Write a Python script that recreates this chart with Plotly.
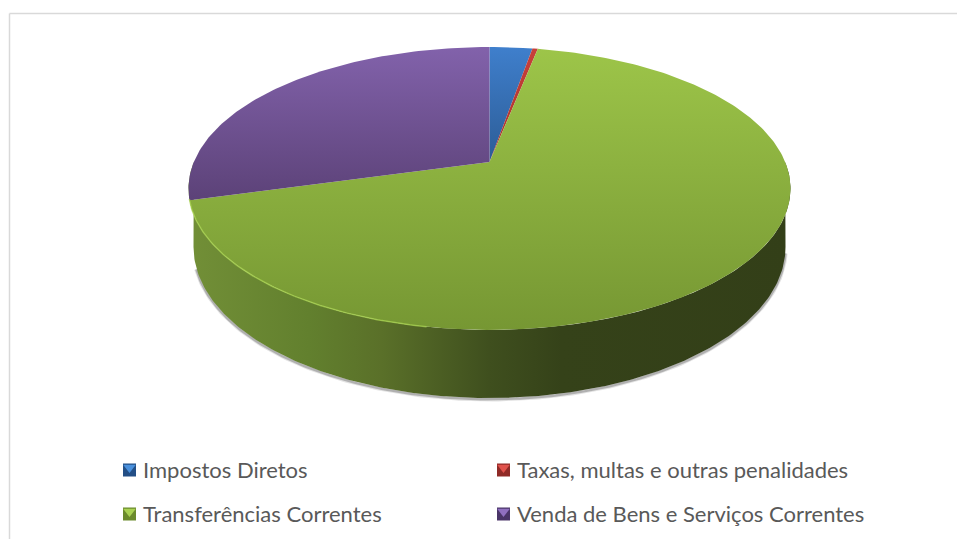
import numpy as np
import plotly.graph_objects as go

# --- data -----------------------------------------------------------------
categories = ["Impostos Diretos", "Taxas, multas e outras penalidades",
              "Transferências Correntes", "Venda de Bens e Serviços Correntes"]
values = [2.75, 0.35, 67.6, 29.3]

# --- styles ---------------------------------------------------------------
top_colors = [("#3f7fcc", "#2c5c96"), ("#c8403a", "#a8322c"),
              ("#9dc549", "#769733"), ("#8262ab", "#5c4278")]
swatch_dark = ["#234f86", "#8f2a26", "#6b8a2c", "#4a3568"]
swatch_light = ["#4a90dc", "#e0524c", "#a9d152", "#9070c0"]
CX, APEX_Y, C, A, R = 489.5, 162.0, 0.187, -106.2, 295.7


def project(theta):
    """Perspective projection of a unit circle, clockwise from 12 o'clock."""
    d = 1 + C * np.cos(theta)
    return CX + R * np.sin(theta) / d, (A * np.cos(theta) + APEX_Y) / d


def lower_rim(t0, t1, n=200):
    t = np.radians(np.linspace(t0, t1, n))
    return CX + 296 * np.cos(t), 247 + 151 * np.sin(t)


fig = go.Figure()

# soft drop shadow beneath the wall, built of two translucent strokes
shx, shy = lower_rim(172, 2)
for width, alpha in [(4.5, 0.14), (2.5, 0.3)]:
    fig.add_trace(go.Scatter(x=shx, y=shy + 1.2, mode="lines", showlegend=False, hoverinfo="skip",
                             line=dict(color=f"rgba(60,60,60,{alpha})", width=width)))

# wall
sx, sy = lower_rim(180, 0)
tx, ty = project(np.radians(np.linspace(90, 270, 200)))
wx = np.concatenate([sx, tx])
wy = np.concatenate([sy, ty])
fig.add_trace(go.Scatter(
    x=wx, y=wy, mode="lines", fill="toself", showlegend=False, hoverinfo="skip",
    line=dict(width=0, color="rgba(0,0,0,0)"),
    fillgradient=dict(type="horizontal", start=189, stop=790, colorscale=[
        [0.0, "#728f37"], [0.2, "#62802e"], [0.32, "#5a7029"],
        [0.5, "#3f4f1e"], [0.62, "#354219"], [1.0, "#333f18"]])))

# top face: one wedge per category
edges = np.concatenate([[0], np.cumsum(values)]) / np.sum(values) * 2 * np.pi
for i, name in enumerate(categories):
    n = max(int((edges[i + 1] - edges[i]) * 60), 4)
    ax, ay = project(np.linspace(edges[i], edges[i + 1], n))
    x = np.concatenate([[CX], ax, [CX]])
    y = np.concatenate([[APEX_Y], ay, [APEX_Y]])
    c0, c1 = top_colors[i]
    stop = 330 if i == 2 else (200 if i == 3 else APEX_Y)
    fig.add_trace(go.Scatter(
        x=x, y=y, mode="lines", fill="toself", name=name, showlegend=False,
        line=dict(width=0, color="rgba(0,0,0,0)"),
        fillgradient=dict(type="vertical", start=47, stop=stop,
                          colorscale=[[0, c0], [1, c1]])))

# highlight along the front-left rim
hx, hy = project(np.radians(np.linspace(255, 190, 120)))
fig.add_trace(go.Scatter(x=hx, y=hy, mode="lines", showlegend=False, hoverinfo="skip",
                         line=dict(color="rgba(170,212,80,0.7)", width=1.5)))

# legend
legend_col_x = [123, 497]
legend_row_y = [470, 514]
for i, name in enumerate(categories):
    lx = legend_col_x[i % 2]
    ly = legend_row_y[i // 2]
    fig.add_trace(go.Scatter(x=[lx + 6.5], y=[ly], mode="markers", showlegend=False, hoverinfo="skip",
                             marker=dict(symbol="square", size=13, color=swatch_dark[i], line=dict(width=0))))
    fig.add_trace(go.Scatter(x=[lx + 6.5], y=[ly - 2.5], mode="markers", showlegend=False, hoverinfo="skip",
                             marker=dict(symbol="triangle-down", size=11, color=swatch_light[i], line=dict(width=0))))
    fig.add_annotation(x=lx + 18, y=ly - 1, xref="x", yref="y", text=name, showarrow=False,
                       xanchor="left", yanchor="middle",
                       font=dict(family="Lato", size=22, color="#595959"))

fig.update_layout(
    width=957, height=539, margin=dict(l=0, r=0, t=0, b=0),
    paper_bgcolor="white", plot_bgcolor="white", showlegend=False,
    xaxis=dict(range=[0, 957], visible=False, fixedrange=True),
    yaxis=dict(range=[539, 0], visible=False, fixedrange=True),
    shapes=[
        dict(type="line", xref="x", yref="y", x0=9.5, x1=9.5, y0=13.5, y1=539,
             line=dict(color="#d9d9d9", width=1.5)),
        dict(type="line", xref="x", yref="y", x0=9.5, x1=957, y0=13.5, y1=13.5,
             line=dict(color="#d9d9d9", width=1.5)),
    ],
)
fig.write_html("out.html", config={"displayModeBar": False},
               post_script="document.body.style.margin='0';document.documentElement.style.overflow='hidden';")
